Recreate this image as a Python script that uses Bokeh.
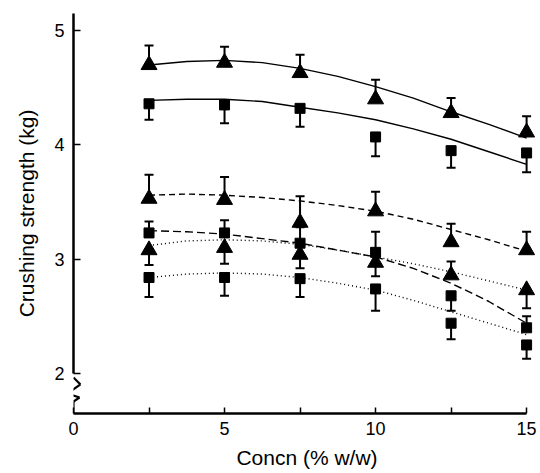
from bokeh.plotting import figure
from bokeh.models import FixedTicker, Arrow
from bokeh.embed import file_html
from bokeh.resources import INLINE

# ---- data ----
conc = [2.5, 5, 7.5, 10, 12.5, 15]
fit_conc = [2.5, 3.75, 5, 6.25, 7.5, 8.75, 10, 11.25, 12.5, 13.75, 15]

# series 1: filled triangles, solid fit
s1_y = [4.70, 4.72, 4.63, 4.40, 4.28, 4.11]
s1_up = [0.17, 0.14, 0.16, 0.17, 0.13, 0.14]
s1_dn = [0, 0, 0, 0, 0, 0]
s1_fit = [4.70, 4.73, 4.74, 4.72, 4.67, 4.60, 4.51, 4.41, 4.29, 4.18, 4.06]

# series 2: filled squares, solid fit
s2_y = [4.36, 4.35, 4.32, 4.07, 3.95, 3.93]
s2_up = [0, 0, 0, 0, 0, 0]
s2_dn = [0.14, 0.16, 0.16, 0.17, 0.15, 0.17]
s2_fit = [4.39, 4.40, 4.40, 4.38, 4.33, 4.28, 4.22, 4.14, 4.05, 3.94, 3.83]

# series 3: triangles, dashed fit
s3_y = [3.53, 3.52, 3.32, 3.42, 3.15, 3.08]
s3_up = [0.21, 0.20, 0.23, 0.17, 0.16, 0.16]
s3_dn = [0, 0, 0, 0, 0, 0]
s3_fit = [3.56, 3.57, 3.56, 3.54, 3.51, 3.47, 3.42, 3.35, 3.26, 3.17, 3.07]

# series 4: squares, long-dashed fit
s4_y = [3.23, 3.23, 3.14, 3.06, 2.68, 2.40]
s4_up = [0.10, 0.11, 0.14, 0.18, 0, 0.10]
s4_dn = [0, 0, 0, 0, 0.13, 0]
s4_fit = [3.25, 3.24, 3.22, 3.18, 3.14, 3.08, 3.02, 2.92, 2.79, 2.63, 2.44]

# series 5: triangles, dotted fit
s5_y = [3.08, 3.10, 3.04, 2.97, 2.86, 2.73]
s5_up = [0, 0, 0, 0, 0.12, 0]
s5_dn = [0.13, 0.14, 0.12, 0.12, 0, 0.16]
s5_fit = [3.12, 3.16, 3.17, 3.16, 3.13, 3.08, 3.02, 2.96, 2.89, 2.81, 2.73]

# series 6: squares, dotted fit
s6_y = [2.84, 2.84, 2.83, 2.74, 2.44, 2.25]
s6_up = [0, 0, 0, 0, 0, 0]
s6_dn = [0.17, 0.16, 0.16, 0.19, 0.14, 0.12]
s6_fit = [2.84, 2.87, 2.88, 2.87, 2.84, 2.79, 2.73, 2.64, 2.54, 2.44, 2.34]

x_ticks = [0, 5, 10, 15]
x_minor = [2.5, 7.5, 12.5]
y_ticks = [2, 3, 4, 5]

FONT = "Liberation Sans"

p = figure(width=540, height=473, x_range=(0, 15.46), y_range=(1.65, 5.15),
           output_backend="svg", toolbar_location=None,
           min_border_left=73, min_border_right=0, min_border_top=13,
           min_border_bottom=60)
p.outline_line_color = None
p.grid.visible = False
p.background_fill_color = "white"
p.border_fill_color = "white"

xa = p.xaxis[0]
xa.ticker = FixedTicker(ticks=x_ticks, minor_ticks=x_minor)
xa.bounds = (0, 15)
xa.axis_line_width = 2.5
xa.major_tick_in = 6
xa.major_tick_out = 0
xa.minor_tick_in = 6
xa.minor_tick_out = 0
xa.major_tick_line_width = 1.5
xa.minor_tick_line_width = 1.5
xa.axis_label = "Concn (% w/w)"

ya = p.yaxis[0]
ya.ticker = FixedTicker(ticks=y_ticks, minor_ticks=[])
ya.bounds = (2, 5.15)
ya.axis_line_width = 2.5
ya.major_tick_in = 7
ya.major_tick_out = 0
ya.minor_tick_in = 0
ya.minor_tick_out = 0
ya.major_tick_line_width = 1.5
ya.axis_label = "Crushing strength (kg)"

for ax in (xa, ya):
    ax.axis_line_color = "black"
    ax.major_tick_line_color = "black"
    ax.minor_tick_line_color = "black"
    ax.major_label_text_font = FONT
    ax.major_label_text_font_size = "18px"
    ax.major_label_text_color = "black"
    ax.axis_label_text_font = FONT
    ax.axis_label_text_font_size = "21px"
    ax.axis_label_text_font_style = "normal"
    ax.axis_label_text_color = "black"
xa.major_label_standoff = 8
xa.axis_label_standoff = 8
ya.major_label_standoff = 9
ya.axis_label_standoff = 13

series = [
    (s1_y, s1_up, s1_dn, s1_fit, "triangle", "solid"),
    (s2_y, s2_up, s2_dn, s2_fit, "square", "solid"),
    (s3_y, s3_up, s3_dn, s3_fit, "triangle", "6 4"),
    (s4_y, s4_up, s4_dn, s4_fit, "square", "8 4"),
    (s5_y, s5_up, s5_dn, s5_fit, "triangle", "1 3"),
    (s6_y, s6_up, s6_dn, s6_fit, "square", "1 3"),
]

# fitted curves
for y, up, dn, fit, mk, dash in series:
    p.line(fit_conc, fit, line_color="black", line_width=1.4, line_dash=dash)

# error bars
for y, up, dn, fit, mk, dash in series:
    x0, y0, y1, cx, cy = [], [], [], [], []
    for xi, yi, u, d in zip(conc, y, up, dn):
        if u > 0:
            x0.append(xi); y0.append(yi); y1.append(yi + u)
            cx.append(xi); cy.append(yi + u)
        if d > 0:
            x0.append(xi); y0.append(yi - d); y1.append(yi)
            cx.append(xi); cy.append(yi - d)
    p.segment(x0=x0, y0=y0, x1=x0, y1=y1, line_color="black", line_width=2)
    p.scatter(cx, cy, marker="dash", size=9, line_color="black", line_width=2)

# markers
for y, up, dn, fit, mk, dash in series:
    if mk == "triangle":
        p.scatter(conc, y, marker="triangle", size=16, fill_color="black",
                  line_color="black")
    else:
        p.scatter(conc, y, marker="square", size=10, fill_color="black",
                  line_color="black")

# axis break symbol
bx = [0, 0.23, -0.2, 0.2, 0, 0]
by = [1.965, 1.904, 1.825, 1.79, 1.755, 1.65]
for i in range(len(bx) - 1):
    p.add_layout(Arrow(end=None, x_start=bx[i], y_start=by[i], x_end=bx[i + 1],
                       y_end=by[i + 1], line_color="black", line_width=2.2))

open("out.html", "w").write(file_html(p, INLINE))
